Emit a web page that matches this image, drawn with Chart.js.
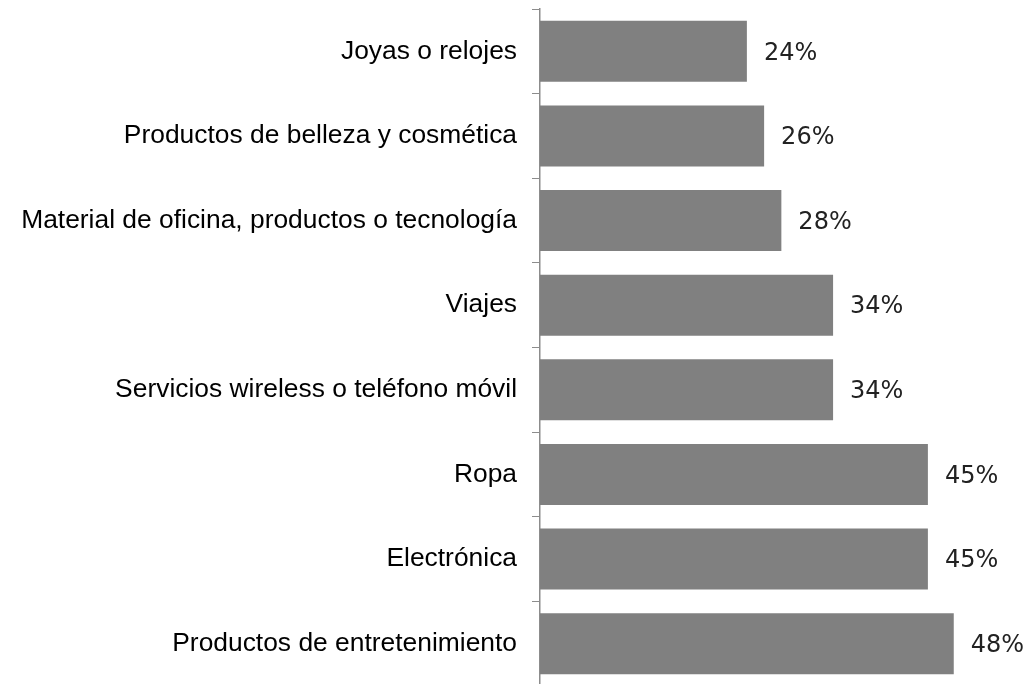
<!DOCTYPE html>
<html>
<head>
    <meta charset="utf-8">
    <title>Compras</title>
    <script src="https://cdn.jsdelivr.net/npm/chart.js"></script>
    <style>
        body { margin: 0; overflow: hidden; background: #fff; }
    </style>
</head>
<body>
    <canvas id="chart" width="1030" height="686"></canvas>

    <script>
        const categories = [
            'Joyas o relojes',
            'Productos de belleza y cosmética',
            'Material de oficina, productos o tecnología',
            'Viajes',
            'Servicios wireless o teléfono móvil',
            'Ropa',
            'Electrónica',
            'Productos de entretenimiento'
        ];
        const values = [24, 26, 28, 34, 34, 45, 45, 48];

        // etiquetas de valor a la derecha de cada barra
        const valueLabels = {
            id: 'valueLabels',
            afterDatasetsDraw(chart) {
                const ctx = chart.ctx;
                const meta = chart.getDatasetMeta(0);
                ctx.save();
                ctx.font = '24px "DejaVu Sans"';
                ctx.fillStyle = '#222';
                ctx.textAlign = 'left';
                ctx.textBaseline = 'middle';
                meta.data.forEach((bar, i) => {
                    ctx.fillText(values[i] + '%', bar.x + 17, bar.y + 2);
                });
                ctx.restore();
            }
        };

        const ctx = document.getElementById('chart').getContext('2d');
        const chart = new Chart(ctx, {
            type: 'bar',
            data: {
                labels: categories,
                datasets: [{
                    data: values,
                    backgroundColor: '#808080',
                    borderWidth: 0,
                    categoryPercentage: 1,
                    barPercentage: 0.72
                }]
            },
            options: {
                indexAxis: 'y',
                responsive: false,
                animation: false,
                layout: { padding: { top: 9, right: 59, bottom: 0, left: 0 } },
                plugins: {
                    legend: { display: false },
                    tooltip: { enabled: false }
                },
                scales: {
                    x: {
                        display: false,
                        min: 0,
                        max: 50
                    },
                    y: {
                        afterFit(scale) {
                            scale.width = 540;
                            scale.paddingTop = 0;
                            scale.paddingBottom = 0;
                        },
                        grid: {
                            offset: true,
                            drawOnChartArea: false,
                            tickLength: 8,
                            color: '#8c8c8c'
                        },
                        border: { color: '#8c8c8c', width: 1.5 },
                        ticks: {
                            padding: 15,
                            color: '#000',
                            font: { family: '"Liberation Sans", Arial', size: 26.4 }
                        }
                    }
                }
            },
            plugins: [valueLabels]
        });
    </script>
</body>
</html>
